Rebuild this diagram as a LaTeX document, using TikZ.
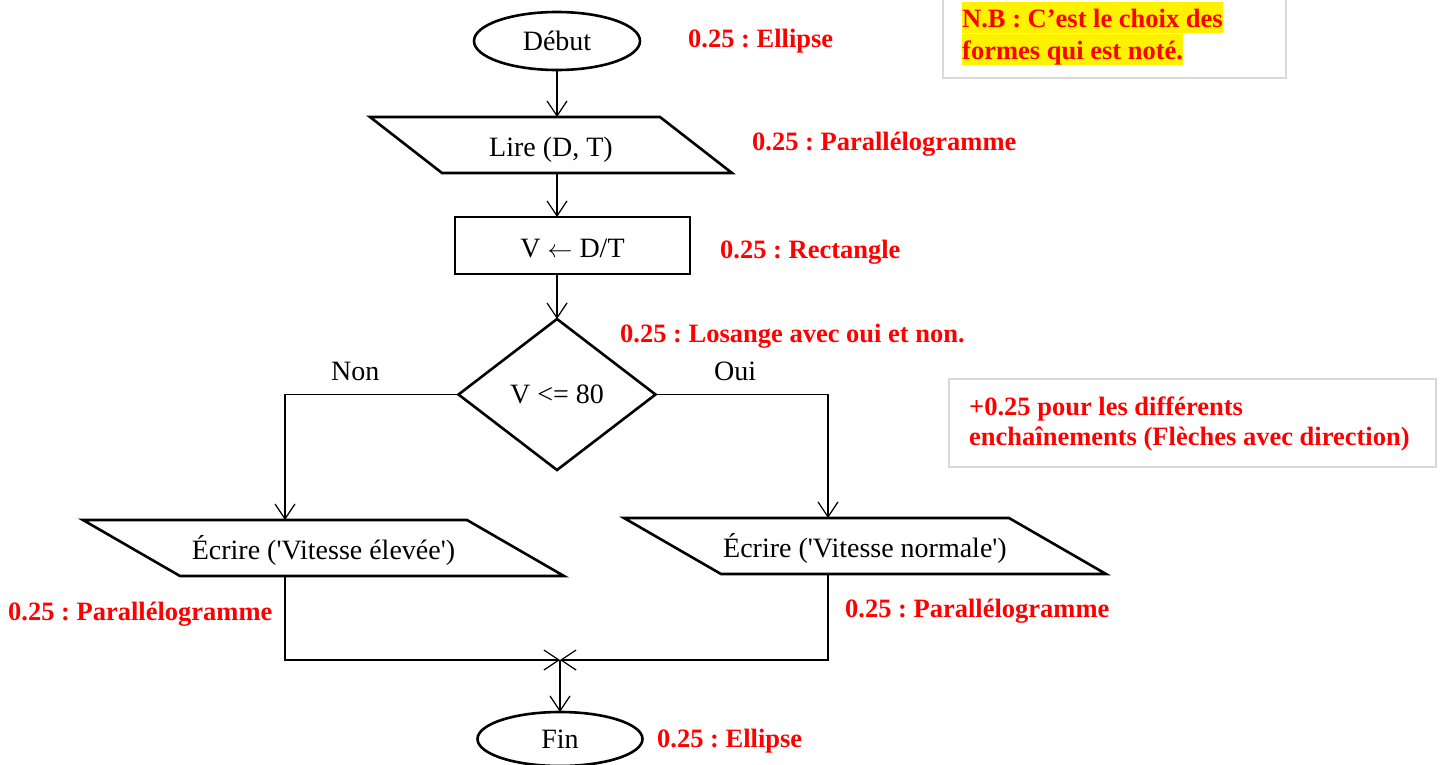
\documentclass[tikz,border=0pt]{standalone}
\usepackage{fontspec}
\setmainfont{Liberation Serif}
\usetikzlibrary{arrows.meta,shapes.geometric}
\frenchspacing

\begin{document}
\begin{tikzpicture}[x=1pt, y=-1pt, >={Straight Barb[length=15pt,width=20pt]},
  texte/.style={font=\fontsize{28pt}{32pt}\selectfont},
  bord/.style={line width=2.6pt},
  fleche/.style={->, line width=1.2pt},
  extremite/.style={ellipse, draw, bord, texte, outer sep=0pt},
  boite/.style={rectangle, texte, outer sep=0pt, text height=28pt, text depth=5pt},
  etiquette/.style={texte, anchor=base west, inner sep=0pt},
  note/.style={anchor=base west, inner sep=0pt, text=red, font=\fontsize{26.5pt}{30pt}\selectfont\bfseries},
  surligne/.style={fill=yellow, text height=22pt, text depth=3pt, inner ysep=3pt},
  cadre/.style={draw=black!15, line width=2pt}]

  \useasboundingbox (0,0) rectangle (1443,764);


  \node[extremite, minimum width=166pt, minimum height=58pt] (debut) at (557,41) {Début};

  \node[boite, minimum width=290pt, minimum height=56pt] (lire) at (551,145) {Lire (D, T)};
  \draw[bord] ([xshift=-36pt]lire.north west) -- ([xshift=-36pt]lire.north east)
    -- ([xshift=36pt]lire.south east) -- ([xshift=36pt]lire.south west) -- cycle;

  \node[boite, draw, bord, minimum width=235pt, minimum height=57pt] (calcul) at (572.5,245.5) {V $\leftarrow$ D/T};

  \node[diamond, draw, bord, texte, aspect=1.3, inner sep=0pt, outer sep=0pt,
    minimum width=197pt, minimum height=151pt] (test) at (557,394.5) {V <= 80};

  \node[boite, minimum width=384pt, minimum height=56pt] (ecrire1) at (323.5,548)
    {Écrire (\textquotesingle Vitesse élevée\textquotesingle)};
  \draw[bord] ([xshift=-48.5pt]ecrire1.north west) -- ([xshift=-48.5pt]ecrire1.north east)
    -- ([xshift=48.5pt]ecrire1.south east) -- ([xshift=48.5pt]ecrire1.south west) -- cycle;

  \node[boite, minimum width=385pt, minimum height=56pt] (ecrire2) at (865,546)
    {Écrire (\textquotesingle Vitesse normale\textquotesingle)};
  \draw[bord] ([xshift=-48.5pt]ecrire2.north west) -- ([xshift=-48.5pt]ecrire2.north east)
    -- ([xshift=48.5pt]ecrire2.south east) -- ([xshift=48.5pt]ecrire2.south west) -- cycle;

  \node[extremite, minimum width=165pt, minimum height=54pt] (fin) at (560,739) {Fin};

  \node[etiquette] (non) at (331,380) {Non};
  \node[etiquette] (oui) at (714,380) {Oui};


  \draw[fleche] (debut) -- (debut |- lire.north);
  \draw[fleche] (debut |- lire.south) -- (debut |- calcul.north);
  \draw[fleche] (debut |- calcul.south) -- (test);

  \draw[fleche] (test.west) -| ([xshift=-38.5pt]ecrire1.north);
  \draw[fleche] (test.east) -| ([xshift=-37pt]ecrire2.north);

  \coordinate (jonction) at (560,660);
  \draw[fleche] ([xshift=-38.5pt]ecrire1.south) |- (jonction);
  \draw[fleche] ([xshift=-37pt]ecrire2.south) |- (jonction);
  \draw[fleche] (jonction) -- (fin);


  % bareme
  \node[note] (n1) at (688,47) {0.25 : Ellipse};
  \node[note] (n2) at (752,150) {0.25 : Parallélogramme};
  \node[note] (n3) at (720,258) {0.25 : Rectangle};
  \node[note] (n4) at (620,342) {0.25 : Losange avec oui et non.};
  \node[note] (n5) at (8,620) {0.25 : Parallélogramme};
  \node[note] (n6) at (845,617) {0.25 : Parallélogramme};
  \node[note] (n7) at (657,747) {0.25 : Ellipse};

  \draw[cadre] (943,-5) rectangle (1286,78);
  \node[note, surligne] (nb1) at (962,27) {N.B : C’est le choix des};
  \node[note, surligne] (nb2) at (962,59) {formes qui est noté.};

  \draw[cadre] (949,379) rectangle (1436,467);
  \node[note] (bonus1) at (969,415) {+0.25 pour les différents};
  \node[note] (bonus2) at (969,445) {enchaînements (Flèches avec direction)};

\end{tikzpicture}
\end{document}
